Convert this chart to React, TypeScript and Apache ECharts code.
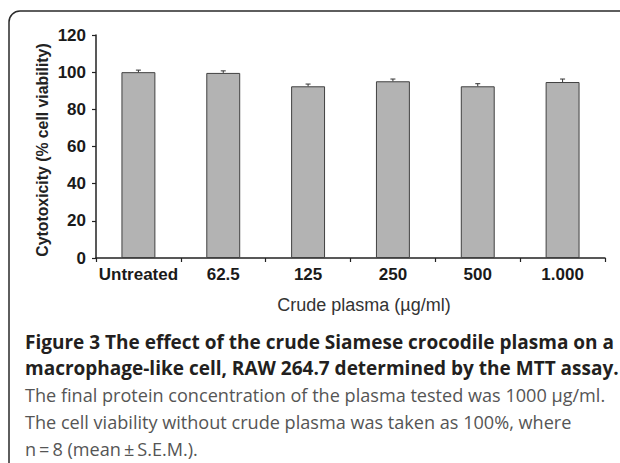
import React, { useEffect, useRef } from "react";
import * as echarts from "echarts";

const categories = ["Untreated", "62.5", "125", "250", "500", "1.000"];
const viability = [100, 99.6, 92.4, 95.1, 92.4, 94.7];
const sem = [1.1, 1.1, 1.2, 1.2, 1.4, 1.6];
const yTicks = { min: 0, max: 120, interval: 20 };

const yAxisTitle = "Cytotoxicity (% cell viability)";
const xAxisTitle = "Crude plasma (\u00b5g/ml)";
const captionBold = [
  "Figure 3 The effect of the crude Siamese crocodile plasma on a",
  "macrophage-like cell, RAW 264.7 determined by the MTT assay.",
];
const captionRegular = [
  "The final protein concentration of the plasma tested was 1000 \u00b5g/ml.",
  "The cell viability without crude plasma was taken as 100%, where",
  "n\u2009=\u20098 (mean\u2009\u00b1\u2009S.E.M.).",
];

export default function App() {
  const ref = useRef<HTMLDivElement>(null);
  useEffect(() => {
    document.body.style.margin = "0";
    const chart = echarts.init(ref.current!, null, { renderer: "svg" });
    const axisFont = "'Liberation Sans', Arial, sans-serif";
    const capFont = "'Open Sans', 'Noto Sans', sans-serif";
    const errData = viability.map((v, i) => [i, v, sem[i]]);
    const graphics: any[] = [
      {
        type: "rect",
        shape: { x: 9, y: 11, width: 700, height: 600, r: [11, 0, 0, 0] },
        style: { fill: "none", stroke: "#2a2a2a", lineWidth: 1.5 },
        silent: true,
      },
      {
        type: "text",
        x: 42,
        y: 150,
        rotation: Math.PI / 2,
        style: {
          text: yAxisTitle,
          font: `bold 15.8px ${axisFont}`,
          fill: "#222",
          align: "center",
          verticalAlign: "middle",
        },
      },
      {
        type: "text",
        x: 364,
        y: 305,
        style: {
          text: xAxisTitle,
          font: `18px ${axisFont}`,
          fill: "#333",
          align: "center",
          verticalAlign: "middle",
        },
      },
    ];
    captionBold.forEach((t, i) => {
      graphics.push({
        type: "text",
        x: 25,
        y: 342 + i * 26,
        style: {
          text: t,
          font: `bold 19px ${capFont}`,
          fill: "#231f20",
          align: "left",
          verticalAlign: "middle",
        },
      });
    });
    captionRegular.forEach((t, i) => {
      graphics.push({
        type: "text",
        x: 25,
        y: 395 + i * 27,
        style: {
          text: t,
          font: `18.1px ${capFont}`,
          fill: "#555",
          align: "left",
          verticalAlign: "middle",
        },
      });
    });

    chart.setOption({
      animation: false,
      backgroundColor: "#fff",
      grid: { left: 96, right: 15, top: 35, bottom: 205, containLabel: false },
      xAxis: {
        type: "category",
        data: categories,
        boundaryGap: true,
        axisLine: { lineStyle: { color: "#222", width: 1.5 } },
        axisTick: { show: true, length: 4, inside: false, interval: 0, lineStyle: { color: "#222", width: 1.2 } },
        axisLabel: {
          interval: 0,
          fontFamily: axisFont,
          fontWeight: "bold",
          fontSize: 17,
          color: "#1a1a1a",
          margin: 8,
        },
      },
      yAxis: {
        type: "value",
        min: yTicks.min,
        max: yTicks.max,
        interval: yTicks.interval,
        splitLine: { show: false },
        axisLine: { show: true, lineStyle: { color: "#222", width: 1.5 } },
        axisTick: { show: true, length: 4, inside: false, lineStyle: { color: "#222", width: 1.2 } },
        axisLabel: {
          fontFamily: axisFont,
          fontWeight: "bold",
          fontSize: 17,
          color: "#1a1a1a",
          margin: 10,
        },
      },
      series: [
        {
          type: "bar",
          data: viability,
          barWidth: "40%",
          itemStyle: { color: "#b3b3b3", borderColor: "#404040", borderWidth: 1 },
        },
        {
          type: "custom",
          data: errData,
          z: 5,
          renderItem: (params: any, api: any) => {
            const i = api.value(0);
            const v = api.value(1);
            const e = api.value(2);
            const base = api.coord([i, v]);
            const top = api.coord([i, v + e]);
            const cap = 2.5;
            const style = { stroke: "#333", lineWidth: 1 };
            return {
              type: "group",
              children: [
                { type: "line", shape: { x1: base[0], y1: base[1], x2: top[0], y2: top[1] }, style },
                { type: "line", shape: { x1: top[0] - cap, y1: top[1], x2: top[0] + cap, y2: top[1] }, style },
              ],
            };
          },
        },
      ],
      graphic: graphics,
    });
    return () => chart.dispose();
  }, []);
  return <div ref={ref} style={{ width: 620, height: 463 }} />;
}
